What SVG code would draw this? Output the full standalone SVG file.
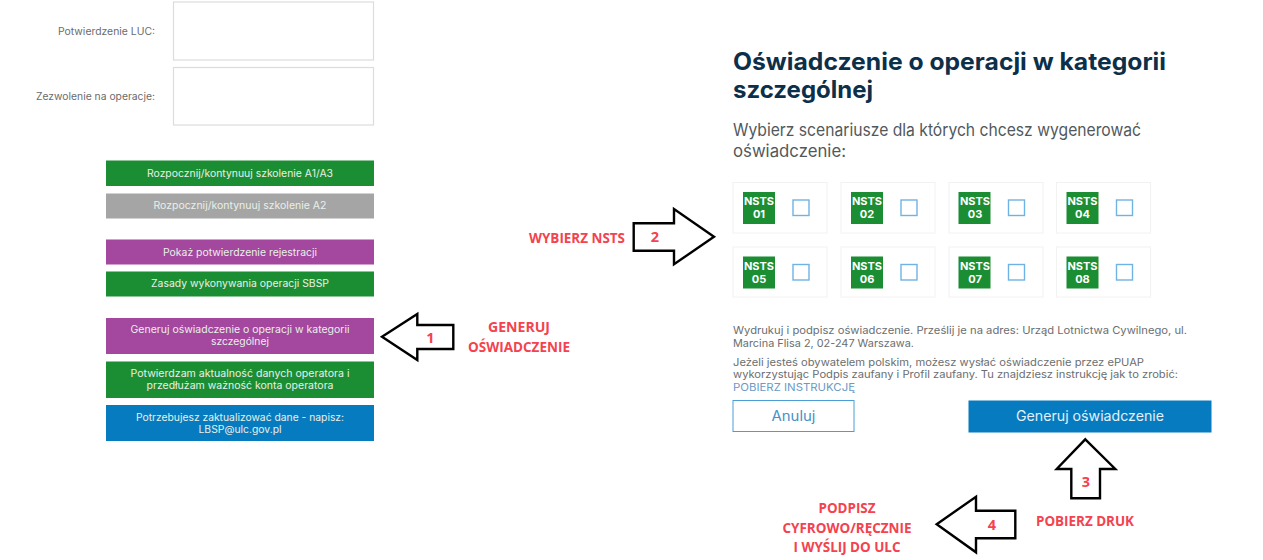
<svg xmlns="http://www.w3.org/2000/svg" width="1263" height="560" viewBox="0 0 1263 560">
<style>
text{font-family:Inter,"Noto Sans",sans-serif}
.field{fill:#fff;stroke:#dcdcdc;stroke-width:1.2}
.lbl{font-size:10px;fill:#6b6b6b;text-anchor:end}
.btn{font-size:10px;fill:#e8f0e8;text-anchor:middle}
.card{fill:#fff;stroke:#f2f2f2;stroke-width:1}
.badge{fill:#1b8e33}
.nsts{font-size:11px;font-weight:700;fill:#fff;text-anchor:middle}
.chk{fill:#fff;stroke:#6fb3e4;stroke-width:1.4}
.small{font-size:10.5px;fill:#6a6e70}
.arrow{fill:#fff;stroke:#000;stroke-width:2.4}
.red{font-family:"Open Sans","Liberation Sans",sans-serif;font-size:14.5px;font-weight:700;fill:#f4424f;text-anchor:middle}
</style>
<rect width="1263" height="560" fill="#fff"/>
<g id="field-luc"><rect class="field" x="173.5" y="2" width="200" height="58"/><text class="lbl" x="155" y="35" textLength="97" lengthAdjust="spacingAndGlyphs">Potwierdzenie LUC:</text></g>
<g id="field-zezwolenie"><rect class="field" x="173.5" y="67.5" width="200" height="57.5"/><text class="lbl" x="155" y="100" textLength="119" lengthAdjust="spacingAndGlyphs">Zezwolenie na operacje:</text></g>
<g id="btn-a1a3"><rect x="106" y="160.5" width="268" height="25.5" fill="#1b8e33"/><text class="btn" x="240" y="177" textLength="186" lengthAdjust="spacingAndGlyphs">Rozpocznij/kontynuuj szkolenie A1/A3</text></g>
<g id="btn-a2"><rect x="106" y="193.5" width="268" height="25" fill="#a5a5a5"/><text class="btn" x="240" y="209" textLength="173" lengthAdjust="spacingAndGlyphs">Rozpocznij/kontynuuj szkolenie A2</text></g>
<g id="btn-rejestracja"><rect x="106" y="239.5" width="268" height="25" fill="#a4479f"/><text class="btn" x="240" y="256" textLength="154" lengthAdjust="spacingAndGlyphs">Pokaż potwierdzenie rejestracji</text></g>
<g id="btn-zasady"><rect x="106" y="271.5" width="268" height="25" fill="#1b8e33"/><text class="btn" x="240" y="287" textLength="178" lengthAdjust="spacingAndGlyphs">Zasady wykonywania operacji SBSP</text></g>
<g id="btn-generuj"><rect x="106" y="318" width="268" height="36" fill="#a4479f"/><text class="btn" x="240" y="333" textLength="219" lengthAdjust="spacingAndGlyphs">Generuj oświadczenie o operacji w kategorii</text><text class="btn" x="240" y="345" textLength="58" lengthAdjust="spacingAndGlyphs">szczególnej</text></g>
<g id="btn-potwierdzam"><rect x="106" y="361.5" width="268" height="36.5" fill="#1b8e33"/><text class="btn" x="240" y="377" textLength="219" lengthAdjust="spacingAndGlyphs">Potwierdzam aktualność danych operatora i</text><text class="btn" x="240" y="389" textLength="187" lengthAdjust="spacingAndGlyphs">przedłużam ważność konta operatora</text></g>
<g id="btn-dane"><rect x="106" y="405" width="268" height="36" fill="#077bc0"/><text class="btn" x="240" y="421" textLength="208" lengthAdjust="spacingAndGlyphs">Potrzebujesz zaktualizować dane - napisz:</text><text class="btn" x="240" y="433" textLength="83" lengthAdjust="spacingAndGlyphs">LBSP@ulc.gov.pl</text></g>

<g id="heading">
<text x="733" y="70" font-size="24" font-weight="700" fill="#0c2f4a" textLength="433" lengthAdjust="spacingAndGlyphs">Oświadczenie o operacji w kategorii</text>
<text x="733" y="98" font-size="24" font-weight="700" fill="#0c2f4a" textLength="140" lengthAdjust="spacingAndGlyphs">szczególnej</text>
<text x="733" y="136" font-size="17" fill="#51585c" textLength="408" lengthAdjust="spacingAndGlyphs">Wybierz scenariusze dla których chcesz wygenerować</text>
<text x="733" y="157" font-size="17" fill="#51585c" textLength="113" lengthAdjust="spacingAndGlyphs">oświadczenie:</text>
</g>

<g id="nsts-01"><rect class="card" x="733" y="182.5" width="94" height="50.5"/><rect class="badge" x="743" y="192" width="32" height="32"/><text class="nsts" x="759" y="205">NSTS</text><text class="nsts" x="759" y="218">01</text><rect class="chk" x="793" y="200" width="16" height="15.5"/></g>
<g id="nsts-02"><rect class="card" x="841" y="182.5" width="94" height="50.5"/><rect class="badge" x="851" y="192" width="32" height="32"/><text class="nsts" x="867" y="205">NSTS</text><text class="nsts" x="867" y="218">02</text><rect class="chk" x="901" y="200" width="16" height="15.5"/></g>
<g id="nsts-03"><rect class="card" x="949" y="182.5" width="94" height="50.5"/><rect class="badge" x="958.5" y="192" width="32" height="32"/><text class="nsts" x="975" y="205">NSTS</text><text class="nsts" x="975" y="218">03</text><rect class="chk" x="1008.5" y="200" width="16" height="15.5"/></g>
<g id="nsts-04"><rect class="card" x="1056.5" y="182.5" width="94" height="50.5"/><rect class="badge" x="1066.5" y="192" width="32" height="32"/><text class="nsts" x="1082.5" y="205">NSTS</text><text class="nsts" x="1082.5" y="218">04</text><rect class="chk" x="1116.5" y="200" width="16" height="15.5"/></g>
<g id="nsts-05"><rect class="card" x="733" y="247" width="94" height="50"/><rect class="badge" x="743" y="256.5" width="32" height="32"/><text class="nsts" x="759" y="269.5">NSTS</text><text class="nsts" x="759" y="282.5">05</text><rect class="chk" x="793" y="264.5" width="16" height="15.5"/></g>
<g id="nsts-06"><rect class="card" x="841" y="247" width="94" height="50"/><rect class="badge" x="851" y="256.5" width="32" height="32"/><text class="nsts" x="867" y="269.5">NSTS</text><text class="nsts" x="867" y="282.5">06</text><rect class="chk" x="901" y="264.5" width="16" height="15.5"/></g>
<g id="nsts-07"><rect class="card" x="949" y="247" width="94" height="50"/><rect class="badge" x="958.5" y="256.5" width="32" height="32"/><text class="nsts" x="975" y="269.5">NSTS</text><text class="nsts" x="975" y="282.5">07</text><rect class="chk" x="1008.5" y="264.5" width="16" height="15.5"/></g>
<g id="nsts-08"><rect class="card" x="1056.5" y="247" width="94" height="50"/><rect class="badge" x="1066.5" y="256.5" width="32" height="32"/><text class="nsts" x="1082.5" y="269.5">NSTS</text><text class="nsts" x="1082.5" y="282.5">08</text><rect class="chk" x="1116.5" y="264.5" width="16" height="15.5"/></g>

<g id="instructions">
<text class="small" x="733" y="334" textLength="454" lengthAdjust="spacingAndGlyphs">Wydrukuj i podpisz oświadczenie. Prześlij je na adres: Urząd Lotnictwa Cywilnego, ul.</text>
<text class="small" x="733" y="347" textLength="181" lengthAdjust="spacingAndGlyphs">Marcina Flisa 2, 02-247 Warszawa.</text>
<text class="small" x="733" y="366" textLength="411" lengthAdjust="spacingAndGlyphs">Jeżeli jesteś obywatelem polskim, możesz wysłać oświadczenie przez ePUAP</text>
<text class="small" x="733" y="378" textLength="445" lengthAdjust="spacingAndGlyphs">wykorzystując Podpis zaufany i Profil zaufany. Tu znajdziesz instrukcję jak to zrobić:</text>
<text class="small" x="733" y="391" textLength="122" lengthAdjust="spacingAndGlyphs" style="fill:#6b9ac4">POBIERZ INSTRUKCJĘ</text>
</g>
<g id="btn-anuluj"><rect x="733" y="400.5" width="121" height="31" fill="#fff" stroke="#4a9ed6" stroke-width="1"/><text x="793.5" y="421" font-size="14" fill="#4a8fc8" text-anchor="middle" textLength="44" lengthAdjust="spacingAndGlyphs">Anuluj</text></g>
<g id="btn-generuj-oswiadczenie"><rect x="968.5" y="400.5" width="243" height="32" fill="#077bc0"/><text x="1090" y="421" font-size="14" fill="#e4f0f8" text-anchor="middle" textLength="148" lengthAdjust="spacingAndGlyphs">Generuj oświadczenie</text></g>

<g id="connectors">
<polygon class="arrow" points="382,336.7 417.3,314 417.3,325 453.3,325 453.3,349 417.3,349 417.3,360"/>
<polygon class="arrow" points="714,236.7 674,209 674,223.3 633.7,223.3 633.7,250.7 674,250.7 674,264.3"/>
<polygon class="arrow" points="1085.3,439.3 1115.3,469 1100,469 1100,498.3 1071.3,498.3 1071.3,469 1056.7,469"/>
<polygon class="arrow" points="936.7,524.3 976,496.7 976,510.7 1015.3,510.7 1015.3,538.3 976,538.3 976,552.3"/>
</g>
<g id="labels">
<text class="red" x="430.5" y="343">1</text>
<text class="red" x="655" y="242">2</text>
<text class="red" x="1086" y="487">3</text>
<text class="red" x="992" y="530">4</text>
<text class="red" x="519" y="332" textLength="62" lengthAdjust="spacingAndGlyphs">GENERUJ</text>
<text class="red" x="519" y="352" textLength="102" lengthAdjust="spacingAndGlyphs">OŚWIADCZENIE</text>
<text class="red" x="577" y="243" textLength="96" lengthAdjust="spacingAndGlyphs">WYBIERZ NSTS</text>
<text class="red" x="1085" y="526" textLength="98" lengthAdjust="spacingAndGlyphs">POBIERZ DRUK</text>
<text class="red" x="847" y="513" textLength="57" lengthAdjust="spacingAndGlyphs">PODPISZ</text>
<text class="red" x="847" y="533" textLength="129" lengthAdjust="spacingAndGlyphs">CYFROWO/RĘCZNIE</text>
<text class="red" x="847" y="552" textLength="107" lengthAdjust="spacingAndGlyphs">I WYŚLIJ DO ULC</text>
</g>
</svg>
